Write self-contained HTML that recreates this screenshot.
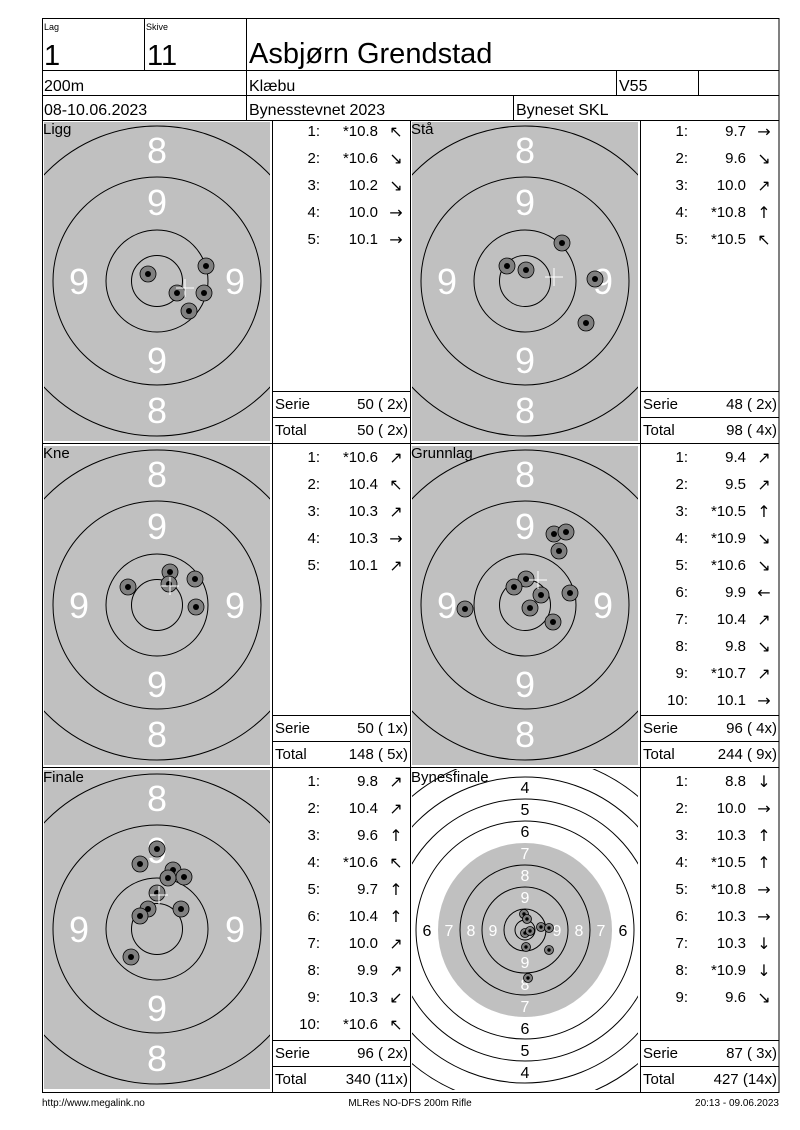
<!DOCTYPE html>
<html><head><meta charset="utf-8"><style>
html,body{margin:0;padding:0;background:#fff}
svg{display:block;font-family:"Liberation Sans",Arial,sans-serif}
</style></head><body>
<svg width="800" height="1130" viewBox="0 0 800 1130" xmlns="http://www.w3.org/2000/svg">
<defs>
<clipPath id="cp"><rect x="-113" y="-159" width="226" height="319"/></clipPath>
<g id="tg">
<g clip-path="url(#cp)">
<rect x="-113" y="-159" width="226" height="319" fill="#c0c0c0"/>
<g fill="none" stroke="#000" stroke-width="1">
<circle r="25.5"/><circle r="51"/><circle r="104"/><circle r="155"/>
</g>
</g>
</g>
<clipPath id="cpb"><rect x="-113" y="-161" width="226" height="321"/></clipPath>
<g id="s"><circle r="8" fill="#808080" stroke="#000" stroke-width="0.8"/><circle r="3" fill="#000"/></g>
<g id="sb"><circle r="4.5" fill="#808080" stroke="#000" stroke-width="0.8"/><circle r="1.7" fill="#000"/></g>
<g id="cr" stroke="#fff" stroke-width="1"><line x1="-9" y1="0" x2="9" y2="0"/><line x1="0" y1="-9" x2="0" y2="9"/></g>
</defs>

<g font-size="36" fill="#fff" text-anchor="middle">
<g transform="translate(157,281)"><use href="#tg"/><text y="-118">8</text><text y="-66">9</text><text y="92">9</text><text y="142">8</text><text x="-78" y="13">9</text><text x="78" y="13">9</text></g>
<g transform="translate(525,281)"><use href="#tg"/><text y="-118">8</text><text y="-66">9</text><text y="92">9</text><text y="142">8</text><text x="-78" y="13">9</text><text x="78" y="13">9</text></g>
<g transform="translate(157,605)"><use href="#tg"/><text y="-118">8</text><text y="-66">9</text><text y="92">9</text><text y="142">8</text><text x="-78" y="13">9</text><text x="78" y="13">9</text></g>
<g transform="translate(525,605)"><use href="#tg"/><text y="-118">8</text><text y="-66">9</text><text y="92">9</text><text y="142">8</text><text x="-78" y="13">9</text><text x="78" y="13">9</text></g>
<g transform="translate(157,929)"><use href="#tg"/><text y="-118">8</text><text y="-66">9</text><text y="92">9</text><text y="142">8</text><text x="-78" y="13">9</text><text x="78" y="13">9</text></g>
</g>

<g transform="translate(525,930)">
<g clip-path="url(#cpb)">
<rect x="-113" y="-161" width="226" height="321" fill="#fff"/>
<circle r="87" fill="#c0c0c0"/>
<g fill="none" stroke="#000" stroke-width="1">
<circle r="10"/><circle r="21"/><circle r="43"/><circle r="65"/><circle r="109"/><circle r="131"/><circle r="153"/><circle r="175"/><circle r="197"/>
</g>
</g>
<g font-size="16" text-anchor="middle">
<g fill="#fff"><text y="-27">9</text><text y="-49">8</text><text y="-71">7</text><text y="38">9</text><text y="60">8</text><text y="82">7</text>
<text x="-32" y="6">9</text><text x="-54" y="6">8</text><text x="-76" y="6">7</text><text x="32" y="6">9</text><text x="54" y="6">8</text><text x="76" y="6">7</text></g>
<g fill="#000"><text y="-93">6</text><text y="-115">5</text><text y="-137">4</text><text y="104">6</text><text y="126">5</text><text y="148">4</text>
<text x="-98" y="6">6</text><text x="98" y="6">6</text></g>
</g>
</g>

<use href="#s" x="148" y="274"/><use href="#s" x="206" y="266"/><use href="#s" x="177" y="293"/><use href="#s" x="204" y="293"/><use href="#s" x="189" y="311"/>
<use href="#cr" x="185" y="288"/>
<use href="#s" x="562" y="243"/><use href="#s" x="507" y="266"/><use href="#s" x="526" y="270"/><use href="#s" x="595" y="279"/><use href="#s" x="586" y="323"/>
<use href="#cr" x="554" y="277"/>
<use href="#s" x="170" y="572"/><use href="#s" x="128" y="587"/><use href="#s" x="195" y="579"/><use href="#s" x="196" y="607"/><use href="#s" x="169" y="584"/>
<use href="#cr" x="170" y="586"/>
<use href="#s" x="554" y="534"/><use href="#s" x="566" y="532"/><use href="#s" x="559" y="551"/><use href="#s" x="526" y="579"/><use href="#s" x="514" y="587"/><use href="#s" x="541" y="595"/><use href="#s" x="570" y="593"/><use href="#s" x="530" y="608"/><use href="#s" x="553" y="622"/><use href="#s" x="465" y="609"/>
<use href="#cr" x="538" y="580"/>
<use href="#s" x="157" y="849"/><use href="#s" x="140" y="864"/><use href="#s" x="173" y="870"/><use href="#s" x="184" y="877"/><use href="#s" x="168" y="878"/><use href="#s" x="148" y="909"/><use href="#s" x="140" y="916"/><use href="#s" x="181" y="909"/><use href="#s" x="131" y="957"/><use href="#s" x="157" y="893"/>
<use href="#cr" x="159" y="895"/>
<use href="#sb" x="524" y="914"/><use href="#sb" x="527" y="919"/><use href="#sb" x="525" y="933"/><use href="#sb" x="530" y="931"/><use href="#sb" x="541" y="927"/><use href="#sb" x="549" y="928"/><use href="#sb" x="526" y="947"/><use href="#sb" x="549" y="950"/><use href="#sb" x="528" y="978"/>

<g stroke="#000" stroke-width="1" fill="none">
<rect x="42.5" y="18.5" width="736.5" height="1074"/>
<line x1="42" y1="70.5" x2="779" y2="70.5"/>
<line x1="42" y1="95.5" x2="779" y2="95.5"/>
<line x1="42" y1="120.5" x2="779" y2="120.5"/>
<line x1="144.5" y1="18" x2="144.5" y2="70"/>
<line x1="246.5" y1="18" x2="246.5" y2="120"/>
<line x1="616.5" y1="70" x2="616.5" y2="95"/>
<line x1="698.5" y1="70" x2="698.5" y2="95"/>
<line x1="513.5" y1="95" x2="513.5" y2="120"/>
<line x1="42" y1="443.5" x2="779" y2="443.5"/>
<line x1="42" y1="767.5" x2="779" y2="767.5"/>
<line x1="272.5" y1="120" x2="272.5" y2="1092"/>
<line x1="410.5" y1="120" x2="410.5" y2="1092"/>
<line x1="640.5" y1="120" x2="640.5" y2="1092"/>
<line x1="272" y1="391.5" x2="410" y2="391.5"/><line x1="272" y1="417.5" x2="410" y2="417.5"/>
<line x1="640" y1="391.5" x2="779" y2="391.5"/><line x1="640" y1="417.5" x2="779" y2="417.5"/>
<line x1="272" y1="715.5" x2="410" y2="715.5"/><line x1="272" y1="741.5" x2="410" y2="741.5"/>
<line x1="640" y1="715.5" x2="779" y2="715.5"/><line x1="640" y1="741.5" x2="779" y2="741.5"/>
<line x1="272" y1="1040.5" x2="410" y2="1040.5"/><line x1="272" y1="1066.5" x2="410" y2="1066.5"/>
<line x1="640" y1="1040.5" x2="779" y2="1040.5"/><line x1="640" y1="1066.5" x2="779" y2="1066.5"/>
</g>

<g fill="#000">
<text x="44" y="30" font-size="9">Lag</text>
<text x="146" y="30" font-size="9">Skive</text>
<text x="44" y="65" font-size="29">1</text>
<text x="147" y="65" font-size="29">11</text>
<text x="249" y="63" font-size="29">Asbjørn Grendstad</text>
<text x="44" y="91" font-size="16">200m</text>
<text x="249" y="91" font-size="16">Klæbu</text>
<text x="619" y="91" font-size="16">V55</text>
<text x="44" y="115" font-size="16">08-10.06.2023</text>
<text x="249" y="115" font-size="16">Bynesstevnet 2023</text>
<text x="516" y="115" font-size="16">Byneset SKL</text>
<text x="43" y="134" font-size="15">Ligg</text>
<text x="411" y="134" font-size="15">Stå</text>
<text x="43" y="458" font-size="15">Kne</text>
<text x="411" y="458" font-size="15">Grunnlag</text>
<text x="43" y="782" font-size="15">Finale</text>
<text x="411" y="782" font-size="15">Bynesfinale</text>
</g>

<g font-size="15" fill="#000">
<g text-anchor="end">
<text x="320" y="136">1:</text><text x="378" y="136">*10.8</text>
<text x="320" y="163">2:</text><text x="378" y="163">*10.6</text>
<text x="320" y="190">3:</text><text x="378" y="190">10.2</text>
<text x="320" y="217">4:</text><text x="378" y="217">10.0</text>
<text x="320" y="244">5:</text><text x="378" y="244">10.1</text>
<text x="688" y="136">1:</text><text x="746" y="136">9.7</text>
<text x="688" y="163">2:</text><text x="746" y="163">9.6</text>
<text x="688" y="190">3:</text><text x="746" y="190">10.0</text>
<text x="688" y="217">4:</text><text x="746" y="217">*10.8</text>
<text x="688" y="244">5:</text><text x="746" y="244">*10.5</text>
<text x="320" y="462">1:</text><text x="378" y="462">*10.6</text>
<text x="320" y="489">2:</text><text x="378" y="489">10.4</text>
<text x="320" y="516">3:</text><text x="378" y="516">10.3</text>
<text x="320" y="543">4:</text><text x="378" y="543">10.3</text>
<text x="320" y="570">5:</text><text x="378" y="570">10.1</text>
<text x="688" y="462">1:</text><text x="746" y="462">9.4</text>
<text x="688" y="489">2:</text><text x="746" y="489">9.5</text>
<text x="688" y="516">3:</text><text x="746" y="516">*10.5</text>
<text x="688" y="543">4:</text><text x="746" y="543">*10.9</text>
<text x="688" y="570">5:</text><text x="746" y="570">*10.6</text>
<text x="688" y="597">6:</text><text x="746" y="597">9.9</text>
<text x="688" y="624">7:</text><text x="746" y="624">10.4</text>
<text x="688" y="651">8:</text><text x="746" y="651">9.8</text>
<text x="688" y="678">9:</text><text x="746" y="678">*10.7</text>
<text x="688" y="705">10:</text><text x="746" y="705">10.1</text>
<text x="320" y="786">1:</text><text x="378" y="786">9.8</text>
<text x="320" y="813">2:</text><text x="378" y="813">10.4</text>
<text x="320" y="840">3:</text><text x="378" y="840">9.6</text>
<text x="320" y="867">4:</text><text x="378" y="867">*10.6</text>
<text x="320" y="894">5:</text><text x="378" y="894">9.7</text>
<text x="320" y="921">6:</text><text x="378" y="921">10.4</text>
<text x="320" y="948">7:</text><text x="378" y="948">10.0</text>
<text x="320" y="975">8:</text><text x="378" y="975">9.9</text>
<text x="320" y="1002">9:</text><text x="378" y="1002">10.3</text>
<text x="320" y="1029">10:</text><text x="378" y="1029">*10.6</text>
<text x="688" y="786">1:</text><text x="746" y="786">8.8</text>
<text x="688" y="813">2:</text><text x="746" y="813">10.0</text>
<text x="688" y="840">3:</text><text x="746" y="840">10.3</text>
<text x="688" y="867">4:</text><text x="746" y="867">*10.5</text>
<text x="688" y="894">5:</text><text x="746" y="894">*10.8</text>
<text x="688" y="921">6:</text><text x="746" y="921">10.3</text>
<text x="688" y="948">7:</text><text x="746" y="948">10.3</text>
<text x="688" y="975">8:</text><text x="746" y="975">*10.9</text>
<text x="688" y="1002">9:</text><text x="746" y="1002">9.6</text>
<text x="408" y="409">50 ( 2x)</text><text x="408" y="435">50 ( 2x)</text>
<text x="777" y="409">48 ( 2x)</text><text x="777" y="435">98 ( 4x)</text>
<text x="408" y="733">50 ( 1x)</text><text x="408" y="759">148 ( 5x)</text>
<text x="777" y="733">96 ( 4x)</text><text x="777" y="759">244 ( 9x)</text>
<text x="408" y="1058">96 ( 2x)</text><text x="408" y="1084">340 (11x)</text>
<text x="777" y="1058">87 ( 3x)</text><text x="777" y="1084">427 (14x)</text>
</g>
<text x="275" y="409">Serie</text><text x="275" y="435">Total</text>
<text x="643" y="409">Serie</text><text x="643" y="435">Total</text>
<text x="275" y="733">Serie</text><text x="275" y="759">Total</text>
<text x="643" y="733">Serie</text><text x="643" y="759">Total</text>
<text x="275" y="1058">Serie</text><text x="275" y="1084">Total</text>
<text x="643" y="1058">Serie</text><text x="643" y="1084">Total</text>
</g>

<g font-size="16" fill="#000" text-anchor="middle" font-family="DejaVu Sans,sans-serif">
<text x="396" y="137">↖</text><text x="396" y="164">↘</text><text x="396" y="191">↘</text><text x="396" y="218">→</text><text x="396" y="245">→</text>
<text x="764" y="137">→</text><text x="764" y="164">↘</text><text x="764" y="191">↗</text><text x="764" y="218">↑</text><text x="764" y="245">↖</text>
<text x="396" y="463">↗</text><text x="396" y="490">↖</text><text x="396" y="517">↗</text><text x="396" y="544">→</text><text x="396" y="571">↗</text>
<text x="764" y="463">↗</text><text x="764" y="490">↗</text><text x="764" y="517">↑</text><text x="764" y="544">↘</text><text x="764" y="571">↘</text><text x="764" y="598">←</text><text x="764" y="625">↗</text><text x="764" y="652">↘</text><text x="764" y="679">↗</text><text x="764" y="706">→</text>
<text x="396" y="787">↗</text><text x="396" y="814">↗</text><text x="396" y="841">↑</text><text x="396" y="868">↖</text><text x="396" y="895">↑</text><text x="396" y="922">↑</text><text x="396" y="949">↗</text><text x="396" y="976">↗</text><text x="396" y="1003">↙</text><text x="396" y="1030">↖</text>
<text x="764" y="787">↓</text><text x="764" y="814">→</text><text x="764" y="841">↑</text><text x="764" y="868">↑</text><text x="764" y="895">→</text><text x="764" y="922">→</text><text x="764" y="949">↓</text><text x="764" y="976">↓</text><text x="764" y="1003">↘</text>
</g>

<g font-size="10" fill="#000">
<text x="42" y="1106">http://www.megalink.no</text>
<text x="410" y="1106" text-anchor="middle">MLRes NO-DFS 200m Rifle</text>
<text x="779" y="1106" text-anchor="end">20:13 - 09.06.2023</text>
</g>
</svg>
</body></html>
